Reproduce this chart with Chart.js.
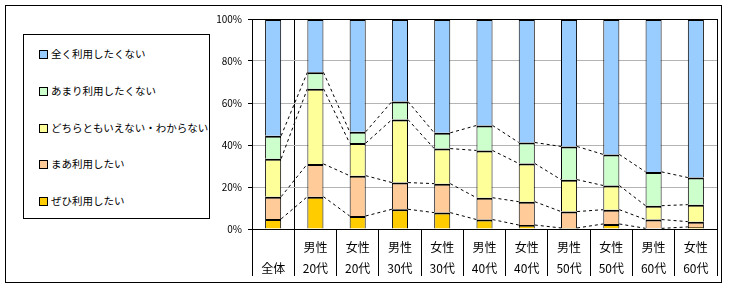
<!DOCTYPE html>
<html>
<head>
<meta charset="utf-8">
<script src="https://cdn.jsdelivr.net/npm/chart.js@4.4.1/dist/chart.umd.min.js"></script>
<style>
html,body{margin:0;padding:0;background:#fff;}
#wrap{position:relative;width:729px;height:289px;overflow:hidden;font-family:"Noto Sans CJK JP",sans-serif;}
#chart{position:absolute;left:0;top:0;}
#frame{position:absolute;left:5px;top:5px;width:717px;height:278px;border:1.5px solid #000;box-sizing:border-box;pointer-events:none;}
#legend{position:absolute;left:23px;top:34px;width:187px;height:185px;border:1px solid #000;box-sizing:border-box;background:#fff;}
#legend .it{position:absolute;left:15px;height:14px;line-height:14px;font-size:10.5px;color:#000;white-space:nowrap;}
#legend .sw{display:inline-block;width:7px;height:7px;border:1px solid #000;vertical-align:middle;margin-right:3px;position:relative;top:-1px;}
</style>
</head>
<body>
<div id="wrap">
  <canvas id="chart" width="729" height="289"></canvas>
  <div id="legend"></div>
  <div id="frame"></div>
</div>
<script>
// 100% stacked bars, bottom -> top: ぜひ, まあ, どちらとも, あまり, 全く
const categories = [["","全体"],["男性","20代"],["女性","20代"],["男性","30代"],["女性","30代"],
  ["男性","40代"],["女性","40代"],["男性","50代"],["女性","50代"],["男性","60代"],["女性","60代"]];
const zehi    = [4.8,15.4,6.2,9.4,7.8,4.5,1.9,0.5,2.4,0.3,1.0];
const maa     = [10.6,15.6,19.2,12.7,13.8,10.4,11.1,7.8,6.8,4.2,2.5];
const dochira = [18.1,35.8,15.5,30.0,16.7,22.5,18.2,15.2,11.5,6.6,8.1];
const amari   = [10.9,7.8,5.4,8.6,7.5,11.9,10.0,15.8,14.8,16.1,12.9];
const mattaku = [55.6,25.4,53.7,39.3,54.2,50.7,58.8,60.7,64.5,72.8,75.5];
const yTicks  = [0,20,40,60,80,100];

const seriesNames  = ["ぜひ利用したい","まあ利用したい","どちらともいえない・わからない","あまり利用したくない","全く利用したくない"];
const seriesColors = ["#FFCC00","#FFCC99","#FFFF99","#CCFFCC","#99CCFF"];
const seriesData   = [zehi, maa, dochira, amari, mattaku];

// legend (top item = top of stack)
const legendTops = [12,49,86,122,159];
const lg = document.getElementById("legend");
for(let k=4;k>=0;k--){
  const d=document.createElement("div");
  d.className="it"; d.style.top=legendTops[4-k]+"px";
  d.innerHTML='<span class="sw" style="background:'+seriesColors[k]+'"></span>'+seriesNames[k];
  lg.appendChild(d);
}

// dashed series lines between adjacent bars + plot border
const seriesLines = {
  id:"seriesLines",
  afterDatasetsDraw(chart){
    const ctx=chart.ctx, a=chart.chartArea;
    ctx.save();
    ctx.strokeStyle="#000"; ctx.lineWidth=1; ctx.setLineDash([3,3]);
    for(let d=0; d<4; d++){
      const els=chart.getDatasetMeta(d).data;
      for(let i=0;i<els.length-1;i++){
        const p=els[i], q=els[i+1];
        ctx.beginPath();
        ctx.moveTo(p.x+p.width/2, p.y);
        ctx.lineTo(q.x-q.width/2, q.y);
        ctx.stroke();
      }
    }
    ctx.setLineDash([]);
    ctx.strokeRect(Math.round(a.left)+0.5, Math.round(a.top)+0.5, Math.round(a.right-a.left), Math.round(a.bottom-a.top));
    ctx.restore();
  }
};

new Chart(document.getElementById("chart"), {
  type:"bar",
  data:{
    labels:categories,
    datasets:seriesData.map((v,k)=>({
      label:seriesNames[k], data:v,
      backgroundColor:seriesColors[k], borderColor:"#000",
      borderWidth:{top:2,left:1,right:1,bottom:0}, borderSkipped:false,
      barPercentage:0.38, categoryPercentage:1
    }))
  },
  options:{
    responsive:false, animation:false,
    layout:{padding:{left:200,top:19,right:12,bottom:10}},
    plugins:{legend:{display:false}, tooltip:{enabled:false}},
    scales:{
      x:{
        stacked:true,
        grid:{offset:true, color:c=>c.index===1?"#000":"rgba(0,0,0,0)", tickColor:"#000", tickLength:47, lineWidth:1},
        border:{color:"#000"},
        ticks:{color:"#000", padding:-39, maxRotation:0, autoSkip:false,
          font:{family:"Noto Sans CJK JP", size:12, lineHeight:1.75}},
        afterFit(s){ s.height=50; }
      },
      y:{
        stacked:true, min:0, max:100,
        afterBuildTicks(s){ s.ticks=yTicks.map(v=>({value:v})); },
        grid:{color:c=>(c.tick&&(c.tick.value===0||c.tick.value===100))?"rgba(0,0,0,0)":"#B4B4B4", tickColor:"#000", tickLength:4},
        border:{color:"#000"},
        ticks:{color:"#000", padding:6, callback:v=>v+"%", font:{family:"Noto Sans CJK JP", size:10}},
        afterFit(s){ s.width=52; }
      }
    }
  },
  plugins:[seriesLines]
});
</script>
</body>
</html>
